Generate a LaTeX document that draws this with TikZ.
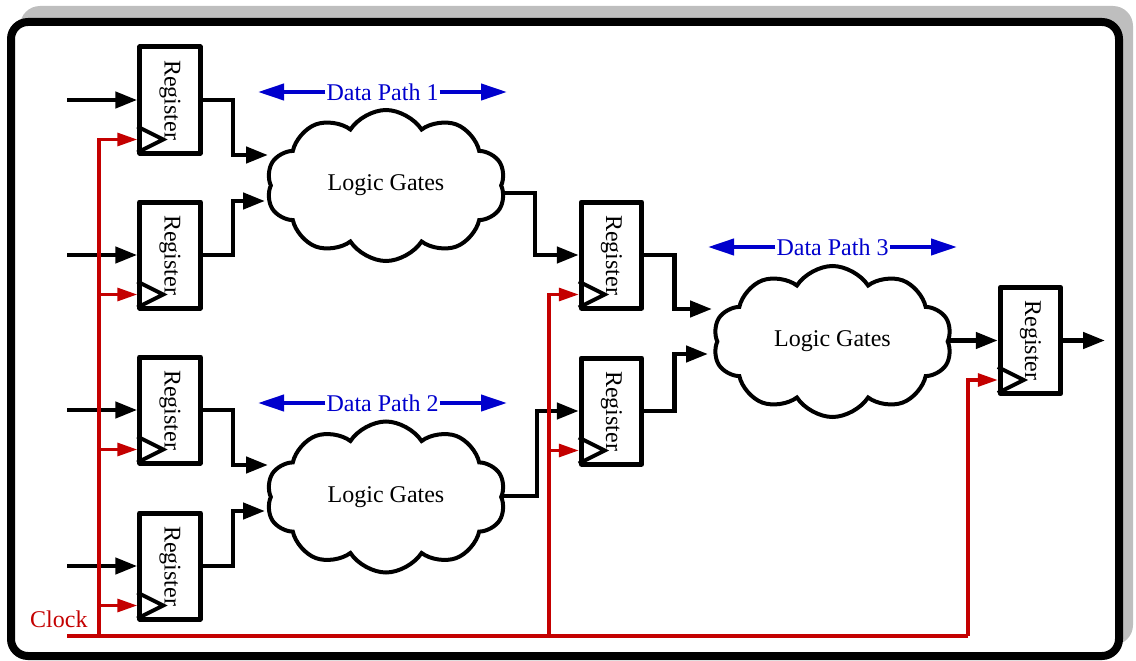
\documentclass[tikz,border=0pt]{standalone}
\usepackage{fontspec}
\setmainfont{Liberation Serif}
\usetikzlibrary{arrows.meta,shapes.symbols,calc}

\definecolor{clockred}{RGB}{196,0,0}
\definecolor{pathblue}{RGB}{0,0,205}
\definecolor{shadowgray}{RGB}{190,190,190}

\begin{document}
\begin{tikzpicture}[x=1pt,y=-1pt,
  font=\fontsize{24}{28}\selectfont,
  regbox/.style={draw, line width=5pt, minimum width=60.5pt, minimum height=106pt,
    inner sep=0pt, fill=white, line join=round},
  clocktri/.style={line width=4pt, line join=miter},
  logiccloud/.style={cloud, draw, fill=white, line width=4pt, cloud puffs=10,
    cloud puff arc=115, cloud ignores aspect, minimum width=239pt, minimum height=151pt,
    inner sep=0pt},
  wire/.style={line width=4.5pt, line join=miter},
  warrow/.style={wire, -{Triangle[length=22pt,width=16pt]}},
  clkline/.style={draw=clockred, line width=3.2pt, line join=miter},
  clkarrow/.style={clkline, -{Triangle[length=20pt,width=13pt]}},
  busarrow/.style={draw=pathblue, line width=4pt, -{Triangle[length=26pt,width=16pt]}},
  buslabel/.style={text=pathblue, fill=white, inner sep=1pt}]

\useasboundingbox (0,0) rectangle (1136,661);

% frame with drop shadow
\fill[shadowgray, rounded corners=20pt] (20,6) rectangle (1133,645);
\draw[line width=8pt, fill=white, rounded corners=17pt] (11,22) rectangle (1119,656);

% registers
\node[regbox] (r1) at (170,100) {\rotatebox{-90}{Register}};
\node[regbox] (r2) at (170,255) {\rotatebox{-90}{Register}};
\node[regbox] (r3) at (170,410) {\rotatebox{-90}{Register}};
\node[regbox] (r4) at (170,566) {\rotatebox{-90}{Register}};
\node[regbox] (m1) at (611.5,255) {\rotatebox{-90}{Register}};
\node[regbox] (m2) at (611.5,411) {\rotatebox{-90}{Register}};
\node[regbox] (r5) at (1030.5,340.5) {\rotatebox{-90}{Register}};

% clock-input triangles and clock pins
\foreach \r in {r1,r2,r3,r4,m1,m2,r5}{
  \draw[clocktri] ($(\r.south west)+(0,3pt)$) -- ($(\r.south west)+(26pt,16pt)$)
    -- ($(\r.south west)+(0,29pt)$);
  \coordinate (ck\r) at ($(\r.south west)+(0,16pt)$);
}

% data inputs
\coordinate (in1) at (67,100);
\coordinate (in2) at (67,255);
\coordinate (in3) at (67,410);
\coordinate (in4) at (67,566);
\draw[warrow] (in1) -- (r1.west);
\draw[warrow] (in2) -- (r2.west);
\draw[warrow] (in3) -- (r3.west);
\draw[warrow] (in4) -- (r4.west);

% cloud outputs (start hidden under the cloud fill)
\coordinate (c1o) at (386,193);
\coordinate (c2o) at (386,496);
\draw[warrow] (c1o) -- ++(149pt,0) |- (m1.west);
\draw[warrow] (c2o) -- ++(151pt,0) |- (m2.west);
\draw[warrow] (832,340.5) -- (r5.west);

% combinational logic
\node[logiccloud] (c1) at (386,185.5) {Logic Gates};
\node[logiccloud] (c2) at (386,497) {Logic Gates};
\node[logiccloud] (c3) at (832.5,341.5) {Logic Gates};

% register outputs into the logic
\coordinate (c1a) at (268,155);
\coordinate (c1b) at (265,201);
\coordinate (c2a) at (268,465);
\coordinate (c2b) at (265,511);
\coordinate (c3a) at (712,309);
\coordinate (c3b) at (708,354);
\draw[warrow] (r1.east) -- ++(30pt,0) |- (c1a);
\draw[warrow] (r2.east) -- ++(30pt,0) |- (c1b);
\draw[warrow] (r3.east) -- ++(30pt,0) |- (c2a);
\draw[warrow] (r4.east) -- ++(30pt,0) |- (c2b);
\draw[warrow] (m1.east) -- ++(30pt,0) |- (c3a);
\draw[warrow] (m2.east) -- ++(30pt,0) |- (c3b);

% final output
\coordinate (out5) at (1105,340.5);
\draw[warrow] (r5.east) -- (out5);

% clock distribution
\coordinate (clkin) at (67,636);
\coordinate (busL) at (99,636);
\coordinate (busM) at (549,636);
\coordinate (busR) at (968,636);
\draw[clkline] (clkin) -- (busR);
\draw[clkarrow] (busL) |- (ckr1);
\draw[clkarrow] (busL) |- (ckr2);
\draw[clkarrow] (busL) |- (ckr3);
\draw[clkarrow] (busL) |- (ckr4);
\draw[clkarrow] (busM) |- (ckm1);
\draw[clkarrow] (busM) |- (ckm2);
\draw[clkarrow] (busR) |- (ckr5);
\node[text=clockred, anchor=base west, inner sep=0pt] (clk) at (30,627) {Clock};

% data path spans
\node[buslabel] (dp1) at (382.5,92) {Data Path 1};
\node[buslabel] (dp2) at (382.5,403) {Data Path 2};
\node[buslabel] (dp3) at (832.5,247) {Data Path 3};
\coordinate (dp1l) at (258,92);
\coordinate (dp1r) at (507,92);
\coordinate (dp2l) at (258,403);
\coordinate (dp2r) at (507,403);
\coordinate (dp3l) at (708,247);
\coordinate (dp3r) at (957,247);
\draw[busarrow] (dp1.west) -- (dp1l);
\draw[busarrow] (dp1.east) -- (dp1r);
\draw[busarrow] (dp2.west) -- (dp2l);
\draw[busarrow] (dp2.east) -- (dp2r);
\draw[busarrow] (dp3.west) -- (dp3l);
\draw[busarrow] (dp3.east) -- (dp3r);

\end{tikzpicture}
\end{document}
